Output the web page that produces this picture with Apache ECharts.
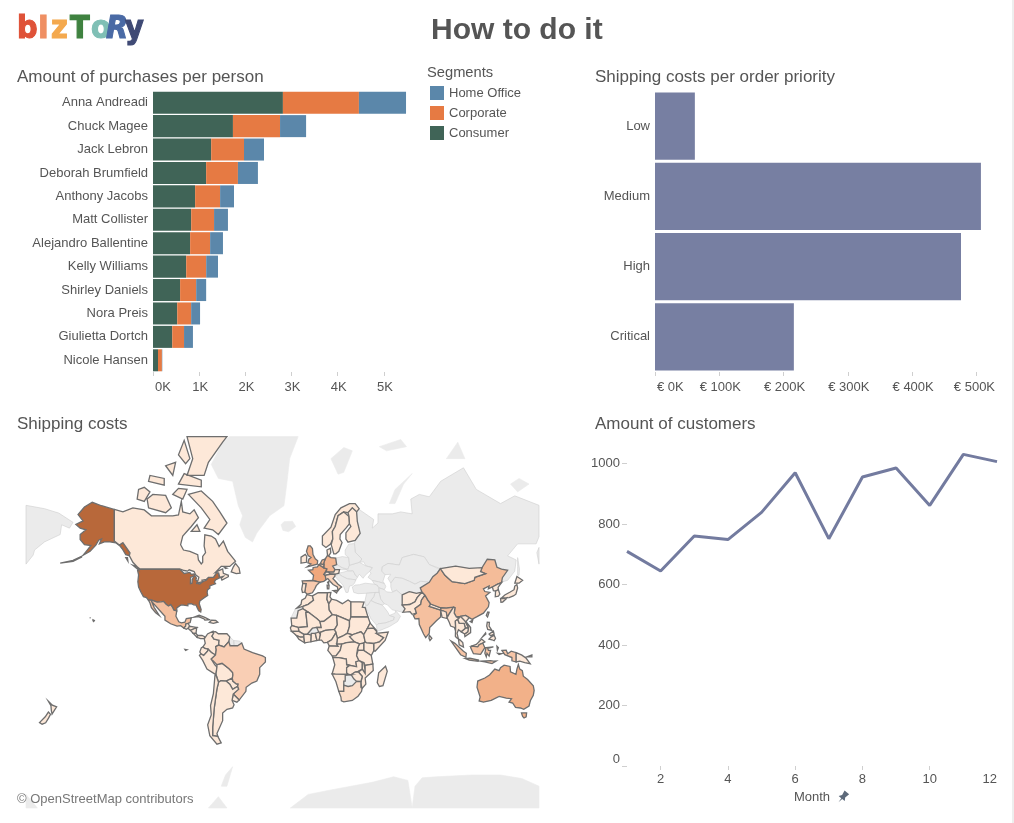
<!DOCTYPE html>
<html>
<head>
<meta charset="utf-8">
<title>How to do it</title>
<script src="https://cdn.jsdelivr.net/npm/echarts@6/dist/echarts.min.js"></script>
<style>
  html, body { margin: 0; padding: 0; background: #fff; overflow: hidden; }
  #main { width: 1014px; height: 823px; }
</style>
</head>
<body>
<div id="main"></div>
<script>
// purchases per person
var people = ['Anna Andreadi', 'Chuck Magee', 'Jack Lebron', 'Deborah Brumfield', 'Anthony Jacobs', 'Matt Collister',
  'Alejandro Ballentine', 'Kelly Williams', 'Shirley Daniels', 'Nora Preis', 'Giulietta Dortch', 'Nicole Hansen'];
var consumer = [2813, 1731, 1260, 1151, 912, 827, 804, 719, 587, 525, 417, 108];
var corporate = [1646, 1020, 711, 688, 541, 495, 433, 433, 348, 301, 255, 85];
var homeOffice = [1020, 564, 433, 433, 301, 301, 278, 255, 216, 193, 193, 8];
var segments = ['Home Office', 'Corporate', 'Consumer'];

// shipping costs per order priority
var priorities = ['Low', 'Medium', 'High', 'Critical'];
var priorityCosts = [62000, 507000, 476000, 216000];

// customers per month
var months = ['1', '2', '3', '4', '5', '6', '7', '8', '9', '10', '11', '12'];
var customers = [710, 645, 761, 749, 839, 970, 752, 956, 986, 862, 1031, 1007];
var customerTicks = [0, 200, 400, 600, 800, 1000];

// shipping costs per country, read from the shade of each country
var dearCountries = ['United States', 'France', 'Australia', 'United Kingdom', 'Germany', 'Netherlands', 'China', 'India', 'Mexico', 'Indonesia', 'Spain', 'Belgium', 'Brazil', 'Italy', 'South Africa'];
var dearCosts = [100, 62, 55, 54, 52, 50, 47, 44, 44, 40, 36, 35, 33, 25, 18];
var paleCost = 9;

// rough country outlines (lon, lat), the map needs them. East of 157E is wrapped to the left
var shippedOutlines = {
  'United States': [
    [[-124.7,48.4],[-123,49],[-95.2,49],[-94.6,48.7],[-92,46.9],[-88,47.4],[-87,46.5],[-85,46.7],[-84.5,46],[-87.5,45],[-88,44.5],[-87.6,43],[-87.6,41.8],[-86.5,42],[-86.3,44],[-85,45.7],[-84,45.5],[-83.4,44.5],[-83.9,43.8],[-82.5,43],[-83.1,42],[-81,41.6],[-79,42.8],[-76.5,43.5],[-75,45],[-71.5,45],[-70.3,46.2],[-69.2,47.4],[-67.8,47.1],[-67.5,45.3],[-67,44.8],[-70,43.7],[-70.8,42.6],[-70,41.7],[-74,40.6],[-74,39.3],[-75.5,38.5],[-75.9,37.1],[-75.5,35.3],[-77.9,33.9],[-81,32],[-81.4,30.4],[-80.1,26.8],[-80.4,25.2],[-81.8,26],[-82.8,27.8],[-83.7,29.6],[-85.3,29.7],[-87,30.4],[-89.4,30.2],[-89.4,29.1],[-91.3,29.4],[-93.8,29.7],[-95,29.2],[-97.2,27.7],[-97.2,25.9],[-99.2,26.4],[-100.4,28.5],[-101.5,29.8],[-103,29],[-104.7,30.1],[-106.5,31.8],[-108.2,31.5],[-111,31.3],[-114.8,32.5],[-117.1,32.5],[-118.5,34],[-120.6,34.6],[-122.4,37.2],[-124,40],[-124.5,42.8],[-124,46.2]],
    [[-141,69.6],[-141,60.3],[-137.5,58.9],[-135,59.7],[-130,55.9],[-130.5,54.8],[-133,55.2],[-135.5,57.5],[-137,58.5],[-140,59.7],[-144,60],[-148,60],[-151.5,59.3],[-150,61],[-152,60.6],[-154,58.8],[-158,56.5],[-163,54.9],[-160,57],[-157.5,58.7],[-162,59],[-165,60.8],[-165,62.5],[-161,64],[-165,64.5],[-168,65.6],[-163,66.6],[-166.5,68.3],[-162,70.2],[-156.5,71.3],[-150,70.5]],
    [[-164,54.5],[-170,52.8],[-179,51.6],[-179,51.3],[-170,52.4],[-164,54.2]],
    [[-156,20.2],[-155,19.7],[-155.5,19],[-156,19.5]],[[-158.3,21.5],[-157.7,21.5],[-157.9,21.2]]
  ],
  'Canada': [
    [[-141,69.6],[-135,69],[-128,70],[-120,69.5],[-115,68],[-108,68],[-100,68],[-96,68.2],[-94,71.5],[-93,69],[-88,68.5],[-85,69.5],[-82,67.5],[-87,65],[-93,62],[-94.5,59],[-92.5,57],[-88,56.5],[-82.5,55.2],[-82,53],[-80,51.3],[-79,52],[-79,54.5],[-77,56],[-78,58.5],[-77.5,62.4],[-73,62],[-70,61],[-67.5,58.3],[-64.5,60.3],[-61.5,56.5],[-56,52.5],[-60,50.2],[-66,50.2],[-70,47.5],[-65,49],[-64.5,47],[-61,46],[-61,45.3],[-65.5,43.6],[-66,44.5],[-64.5,45.5],[-67,45],[-67.8,47.1],[-69.2,47.4],[-70.3,46.2],[-71.5,45],[-75,45],[-76.5,43.9],[-79.5,43.5],[-79,42.8],[-83,42],[-82.5,43],[-81.7,45],[-84,46.3],[-85,47.8],[-88.5,48.6],[-89.6,48],[-92,48.3],[-95.2,49],[-123,49],[-125,50],[-128,52],[-130.5,54.8],[-130,55.9],[-135,59.7],[-137.5,58.9],[-141,60.3]],
    [[-62,66],[-68,62.5],[-72,64],[-78,64.5],[-74,67],[-80,70],[-89,73],[-80,73.7],[-72,71.5],[-67,69]],
    [[-117,70],[-105,68.8],[-101,70],[-105,72.8],[-114,73],[-118,72]],
    [[-125,72],[-120,71.5],[-116,73.5],[-120,74.4],[-124,74]],
    [[-90,76.5],[-78,76.5],[-75,78.5],[-65,81],[-62,81.6],[-90,81.6],[-86,79]],
    [[-96,79.5],[-91,78.3],[-88,79],[-92,81.2]],
    [[-96,75],[-80,74.5],[-80,75.7],[-92,76.8]],
    [[-117,75.5],[-106,74.8],[-106,76],[-116,76.5]],
    [[-100,73],[-93,72],[-90,74],[-96,74.2]],
    [[-59,47.7],[-55.5,46.8],[-52.8,47],[-53.5,49.5],[-56,51.5],[-57.5,50]],
    [[-128,50.7],[-124,48.5],[-123.3,48.5],[-125,50]],
    [[-87,63.5],[-81,63.5],[-83,65.5]],
    [[-105,78],[-100,76.5],[-98,78.5]],
    [[-64,49.9],[-62,49.4],[-63,49.2]],
    [[-133,54],[-131.8,54],[-131.5,52.5]]
  ],
  'Mexico': [[[-117.1,32.5],[-114.8,32.5],[-111,31.3],[-108.2,31.5],[-106.5,31.8],[-104.7,30.1],[-103,29],[-101.5,29.8],[-100.4,28.5],[-99.2,26.4],[-97.2,25.9],[-97.8,22.5],[-95.8,18.8],[-94,18.1],[-91.5,18.6],[-90.5,21],[-87,21.5],[-87.8,18.3],[-89.2,17.8],[-91,17.2],[-90.9,16],[-92.2,14.6],[-94.5,16.2],[-97,15.9],[-101.5,17.5],[-105.5,20],[-105.5,22.5],[-109,26],[-112.5,29.5],[-114.8,31.7],[-113,28],[-109.5,23],[-112,24.8],[-115,28],[-116,30.8]]],
  'Guatemala': [[[-92.2,14.6],[-90.9,16],[-91,17.2],[-89.2,17.8],[-88.2,15.8],[-89.3,14.4],[-90.5,13.8]]],
  'Honduras': [[[-89.3,14.4],[-88.2,15.8],[-83.2,15],[-87.5,13]]],
  'Nicaragua': [[[-87.5,13],[-83.2,15],[-83.7,11],[-85.7,11]]],
  'Costa Rica': [[[-85.7,11],[-83.7,11],[-82.6,9.5],[-83,8.2]]],
  'Panama': [[[-83,8.2],[-82.6,9.5],[-79.5,9.5],[-77.5,8.6],[-78,7.3],[-80.5,7.3]]],
  'Cuba': [[[-85,21.9],[-81.5,23.2],[-77.5,21.8],[-74.2,20.2],[-77.5,19.9],[-78,20.7],[-82,22.3]]],
  'Hispaniola': [[[-74.4,18.4],[-72.8,19.9],[-69.9,19.7],[-68.4,18.6],[-71.5,17.8]]],
  'Colombia': [[[-77.9,7.2],[-75.6,10.6],[-71.7,12.4],[-71.3,11],[-72.5,9],[-71,6.9],[-67.5,6.2],[-67.8,2.8],[-69.9,1.7],[-69.5,-0.5],[-70,-4.2],[-72.9,-2.4],[-75.2,-0.1],[-77.5,0.4],[-78.9,1.4],[-77.2,3.9]]],
  'Venezuela': [[[-71.7,12],[-71.3,11],[-72.5,9],[-71,6.9],[-67.5,6.2],[-67.8,2.8],[-64,1.5],[-60.7,5.2],[-60,8.5],[-62,10.7],[-68,10.7],[-70,12.1]]],
  'Ecuador': [[[-80,0.8],[-78.9,1.4],[-77.5,0.4],[-75.2,-0.1],[-75.6,-1.5],[-78.3,-4.5],[-80.3,-3.4],[-81,-2]],[[-91.5,-0.2],[-90,-0.5],[-91,-1]]],
  'Peru': [[[-81.3,-4.5],[-80.3,-3.4],[-78.3,-4.5],[-75.6,-1.5],[-75.2,-0.1],[-72.9,-2.4],[-70,-4.2],[-73,-7],[-70.5,-11],[-69,-12.5],[-69.4,-15.5],[-69.8,-17.7],[-70.4,-18.3],[-76,-14],[-79,-8]]],
  'Bolivia': [[[-69,-10.9],[-65.4,-10],[-60.5,-13.8],[-58,-16.3],[-57.8,-18],[-58.2,-20.1],[-62.6,-22],[-66.2,-21.8],[-67.9,-22.8],[-69.7,-17.5],[-69.4,-15.5],[-69,-12.5]]],
  'Brazil': [[[-51.6,4.2],[-50,0],[-44,-2.5],[-37,-4.8],[-35,-6],[-35,-9],[-39,-13],[-39,-17.5],[-41,-22],[-44.5,-23.3],[-48.5,-26],[-48.7,-28.5],[-53.4,-33.8],[-57.6,-30.2],[-53.8,-27.2],[-54.6,-25.5],[-54.3,-24],[-55.4,-24],[-58,-22],[-58.2,-20.1],[-57.8,-18],[-58,-16.3],[-60.5,-13.8],[-65.4,-10],[-69,-10.9],[-73,-7],[-70,-4.2],[-69.5,-0.5],[-69.9,1.7],[-67.8,2.8],[-64,1.5],[-60.7,5.2],[-59.8,2.3],[-54.5,2.3]]],
  'Paraguay': [[[-58.2,-20.1],[-58,-22],[-55.4,-24],[-54.3,-24],[-54.6,-25.5],[-58,-27.3],[-60,-24],[-62.6,-22]]],
  'Uruguay': [[[-57.6,-30.2],[-53.4,-33.8],[-55,-35],[-58.4,-34]]],
  'Argentina': [[[-66.2,-21.8],[-62.6,-22],[-60,-24],[-58,-27.3],[-54.6,-25.5],[-53.8,-27.2],[-57.6,-30.2],[-58.4,-34],[-57,-36.5],[-58,-38.3],[-62,-39],[-65,-41],[-65,-45],[-69,-51],[-68.4,-52.3],[-72,-52],[-72,-48],[-71.5,-44],[-71,-39],[-70,-33],[-69,-27],[-67.9,-22.8]]],
  'Chile': [[[-69.8,-17.7],[-67.9,-22.8],[-69,-27],[-70,-33],[-71,-39],[-71.5,-44],[-72,-48],[-72,-52],[-68.4,-52.3],[-66,-55],[-69,-55.5],[-74,-52],[-75.5,-47],[-73,-42],[-73.5,-37],[-71.5,-30],[-70.4,-18.3]]],
  'Norway': [[[5,62],[5,59],[7.5,58],[10.7,59.2],[12.3,61],[12,63.5],[14,65],[16,68],[20,69],[23,68.8],[26,70],[29,69],[30.8,69.8],[28,71],[24,71],[18,70],[14,68.3],[11,64.8]]],
  'Sweden': [[[11.2,59],[13,55.5],[14.4,55.5],[16.5,56.5],[18.8,59.8],[17.3,61],[17.5,62.5],[21.5,64.5],[24,65.8],[23.7,67.8],[20,69],[16,68],[14,65],[12,63.5],[12.3,61]]],
  'Finland': [[[23,59.9],[28,60.5],[31.5,62.9],[29.5,66.5],[29,69],[26,70],[23,68.8],[23.7,67.8],[24,65.8],[25,65],[21.5,63],[21.5,61]]],
  'Denmark': [[[8.2,57],[10.6,57.7],[10.9,56],[9.7,54.9],[8.6,54.9]]],
  'United Kingdom': [[[-5.7,50],[1.4,51.2],[1.7,52.7],[0,53.5],[-1.6,55.2],[-2,57.6],[-3.5,58.6],[-5,58.6],[-6.2,56.5],[-5,54.8],[-3,54],[-4.5,53.3],[-5.2,51.8],[-3,51.3]]],
  'Ireland': [[[-10,51.6],[-6.2,52],[-6,54.5],[-7,55.3],[-10,54.2]]],
  'France': [[[-1.8,43.4],[3.1,42.5],[6,43],[7.5,43.8],[7,46],[6,46.4],[8.2,49],[6,49.5],[2.5,51],[1.5,50],[-1.5,49.7],[-1.7,48.7],[-4.8,48.4],[-1.2,46]],[[8.6,42.5],[9.5,42.9],[9.3,41.5]]],
  'Germany': [[[6,49.5],[8.2,49],[7.6,47.6],[13,47.5],[13.8,48.7],[12.2,50.3],[15,51],[14.3,53.8],[11,54],[8.6,54.9],[7,53.5],[6,51.8]]],
  'Belgium': [[[2.5,51],[6,49.5],[6,51],[4,51.4]]],
  'Netherlands': [[[3.5,51.4],[6,51],[6,51.8],[7,53.4],[4.8,53]]],
  'Switzerland': [[[6,46.4],[7,46],[10.4,46.5],[9.5,47.5],[7.6,47.6]]],
  'Austria': [[[9.5,47.5],[10.4,46.8],[13.8,46.5],[16.5,47],[17,48.7],[13.8,48.7],[13,47.5]]],
  'Italy': [[[7.5,43.8],[8.8,44.4],[10.5,42.9],[12.5,41.3],[15.5,40],[16,38],[17,39],[18.5,40],[16,41.5],[13.5,43.5],[12.4,44.3],[13.8,45.6],[13.8,46.5],[10.4,46.5],[7,46]],[[12.5,38],[15.6,38.2],[15,36.7]],[[8.3,41],[9.7,41],[9.5,39],[8.5,39]]],
  'Spain': [[[-9.2,43.2],[-1.8,43.4],[3.1,42.5],[0.7,40.7],[-0.3,39],[-2,36.8],[-5.5,36],[-7.4,37.2],[-7,39],[-6.5,41.8],[-8.8,41.9]]],
  'Portugal': [[[-8.8,41.9],[-6.5,41.8],[-7,39],[-7.4,37.2],[-9,37],[-9.5,38.8]]],
  'Afghanistan': [[[61,35.6],[66,37.4],[67.5,37.2],[71,36.5],[74.9,37.2],[71.5,34],[70,31.5],[66.3,29.9],[61,29.5],[61,31.5]]],
  'Pakistan': [[[61,29.5],[66.3,29.9],[70,31.5],[71.5,34],[74.9,37.2],[77,35.5],[74.5,32.5],[74,30],[70,27.5],[71,24.5],[68,23.7],[66.5,25.4],[61.5,25],[63,27.2]]],
  'India': [[[77,35.5],[79,32.5],[81,30.2],[80,28.8],[88,26.4],[88,27.9],[92,27.8],[97,28.3],[94,24],[92.5,22.5],[91.5,24.5],[92,25.1],[89.7,26],[88,26.3],[88,22],[85,19.5],[80.3,15],[80,11],[77.5,8],[76,10.5],[73,17],[72.7,21],[70,20.8],[68.8,23],[71,24.5],[70,27.5],[74,30],[74.5,32.5]]],
  'Nepal': [[[81,30.2],[88,27.9],[88,26.4],[80,28.8]]],
  'Bangladesh': [[[88,26.3],[89.7,26],[92,25.1],[92.5,21],[89,21.8]]],
  'Sri Lanka': [[[80,9.7],[81.8,7.5],[80.5,6],[79.8,7.5]]],
  'China': [[[73.7,39.5],[80,42.5],[82.5,45.3],[85.5,47],[87.8,49.2],[91,46],[96,42.8],[105,41.8],[111.5,43.5],[112,45],[119.5,46.8],[116,47.8],[117,49.6],[120.7,53.3],[126,53],[127.5,49.8],[130.7,48.9],[135,48.4],[131.3,44.8],[130.7,42.3],[128,41.5],[124.3,40],[121.5,39],[122,40.5],[118,39],[119,37.5],[122.5,37],[119.5,35],[122,31],[121.5,28.5],[118,24.5],[113.5,22.2],[110,20.5],[108,21.6],[105.5,23],[102,22.4],[99,22],[97.5,24.5],[98,28],[97,28.3],[92,27.8],[88,27.9],[81,30.2],[79,32.5],[77,35.5],[74.9,37.2]],[[108.7,19],[110.5,20],[111,19.5],[110,18.3]]],
  'Mongolia': [[[87.8,49.2],[98.5,50.3],[108,49.3],[117,49.6],[116,47.8],[119.5,46.8],[112,45],[111.5,43.5],[105,41.8],[96,42.8],[91,46]]],
  'Taiwan': [[[120,23],[121,25.2],[122,25],[120.9,22]]],
  'North Korea': [[[124.3,40],[128,41.5],[130.7,42.3],[128.3,39.8],[128.5,38.5],[126.5,37.7],[125,38]]],
  'South Korea': [[[126.5,37.7],[128.5,38.5],[129.5,36],[128.5,34.8],[126.3,34.5]]],
  'Japan': [[[130.9,34],[133,35.5],[136.8,37.2],[139.5,38.5],[140,40.5],[141.5,41.3],[142,39.5],[140.8,36],[139,35],[136,34],[132.5,33.9]],[[140,42],[141.5,45.4],[145.5,43.5],[143,42]],[[130,33.5],[132,33.5],[134.5,34],[134,33.3],[131.5,31.4],[130.3,31.3]]],
  'Myanmar': [[[92.5,21.5],[94,24],[97,28.3],[98,28],[97.5,24.5],[99,22],[101,21.5],[98.3,19],[98.5,15],[99,11],[97.7,15],[95,16],[94,18.5]]],
  'Thailand': [[[98.3,19.5],[100,20.3],[101,18],[104.5,17.8],[105.5,14.5],[102.5,12],[100.5,13.5],[99.5,11],[100.5,7],[102,6],[99,8],[98.3,9],[98.5,15]]],
  'Laos': [[[100,20.3],[102,22.4],[105,19.5],[107.5,15],[105.5,14.5],[104.5,17.8],[101,18]]],
  'Vietnam': [[[102,22.4],[105.5,23],[108,21.6],[105.8,19],[109,15],[109,11.5],[105,8.7],[104.8,10.5],[107,12],[107.5,15],[105,19.5]]],
  'Cambodia': [[[102.5,12],[105.5,14.5],[107.5,14.5],[107,12],[104.8,10.5]]],
  'Malaysia': [[[100.5,7],[102,6],[103.5,4.5],[104,1.4],[101,3]],[[109.6,2],[113,3.2],[116.8,7],[119,5],[117.5,4.2],[115,3],[114,1.5]]],
  'Indonesia': [[[109,1],[109.6,2],[114,1.5],[115,3],[117.5,4.2],[119,1],[116,-3.8],[111,-3.3]],[[95.3,5.6],[98,4],[104,-1.5],[106,-3],[105.7,-5.8],[102,-4],[98.5,1]],[[105.2,-6.7],[108.5,-6.5],[114.5,-7.7],[114.3,-8.6],[108,-7.8]],[[119.8,1],[125,1.5],[121,0.5],[121.5,-1],[123,-1],[122,-5],[120.5,-3],[120,-5.5],[119,-3]],[[131,-1],[134,-0.8],[135,-3.3],[137.5,-1.5],[141,-2.6],[141,-9.1],[138,-8.3],[138,-6],[133,-4]],[[116,-8.5],[123,-8.2],[125,-8.5],[127,-8.4],[124,-10.2],[119,-9]],[[127.5,2],[128.5,1],[127.8,-0.8]],[[128,-3],[130.8,-3.2],[129,-3.8]]],
  'Papua New Guinea': [[[141,-2.6],[145,-4.3],[148,-6.5],[147.5,-7],[150.8,-10.3],[147,-9.5],[143.5,-8.5],[141,-9.1]],[[148.5,-5.5],[152,-4.2],[152,-5.5]]],
  'Philippines': [[[120.3,16],[120.7,18.5],[122.2,18.4],[122,16],[124,13],[121,13.7]],[[122,7],[123.5,8.5],[125.5,9.7],[126.5,7.5],[125.5,5.8],[124,6.5]],[[122,10.5],[125,12.5],[125.5,10.5],[123,9.3]],[[117.2,8.4],[119.5,11.3],[119.7,10.5]]],
  'Australia': [[[114,-22],[113.5,-26],[115.7,-32],[115,-34.3],[118,-35],[123.5,-34],[129,-31.6],[134,-32.7],[137.7,-33],[136,-35],[138.5,-35.5],[140.5,-38],[144,-38.3],[146.3,-39],[150,-37.2],[151,-34],[153,-31],[153.6,-28],[153,-25],[149,-21],[146,-18.8],[145.3,-15],[143.5,-14],[142.5,-10.8],[141.5,-14],[140.8,-17.5],[137,-15.8],[136.7,-12.2],[132.5,-11.3],[130,-13],[129,-15],[126,-14],[122.3,-18],[119,-20]],[[144.7,-41],[148.3,-41],[148,-43],[146.5,-43.6],[145.5,-42.8]]],
  'New Zealand': [[[-187.3,-34.5],[-184.5,-36.7],[-181.5,-37.7],[-183,-39.5],[-184.7,-41.6],[-185.2,-39.8],[-185.5,-37]],[[-187.3,-40.5],[-185.8,-41.7],[-187.2,-43.7],[-189.2,-46],[-191.7,-46.7],[-193.5,-45.9],[-189.5,-43]]],
  'Morocco': [[[-5.9,35.8],[-2,35],[-1.2,32.5],[-5,30],[-8.7,28.7],[-13,27.7],[-10,30],[-9.5,32.5],[-7,33.8]]],
  'Algeria': [[[-2,35],[2,36.8],[8.6,36.9],[8.2,33],[9.5,30.2],[9.8,26.5],[12,23.5],[6,19.2],[3.3,19],[1.2,20.8],[-4.8,25],[-8.7,27.3],[-8.7,28.7],[-5,30],[-1.2,32.5]]],
  'Tunisia': [[[8.6,36.9],[11,37],[10.3,34.5],[11.5,33.1],[9.5,30.2],[8.2,33]]],
  'Libya': [[[9.5,30.2],[11.5,33.1],[15,32.4],[19,30.4],[23,32.6],[25,31.5],[25,20],[24,19.5],[15,23],[12,23.5],[9.8,26.5]]],
  'Egypt': [[[25,31.5],[31,31.5],[34.2,31.3],[33,28.2],[35,28],[37,22],[25,22]]],
  'Mauritania': [[[-17,21.3],[-13,21.3],[-12,26],[-8.7,27.3],[-4.8,25],[-6.6,25],[-5.5,15.5],[-12,15],[-16.5,16.3]]],
  'Mali': [[[-4.8,25],[1.2,20.8],[3.3,19],[4.2,15],[1,15],[-2,14.5],[-5.5,10.5],[-8,10.3],[-11.5,12.3],[-12,15],[-5.5,15.5],[-6.6,25]]],
  'Senegal': [[[-17.5,14.7],[-16.5,16.3],[-12,15],[-11.5,12.3],[-16.7,12.3]]],
  'Guinea': [[[-16.7,12.3],[-11.5,12.3],[-8,10.3],[-8,8.5],[-10.5,8.3],[-13.3,9.5],[-15,11]]],
  'Liberia': [[[-13.3,9.5],[-10.5,8.3],[-8,8.5],[-7.5,4.4],[-11.5,6.9]]],
  'Ivory Coast': [[[-8,10.3],[-5.5,10.5],[-2.8,9.8],[-3,5.1],[-7.5,4.4],[-8,8.5]]],
  'Ghana': [[[-2.8,11],[0,11],[1.2,6],[-3,5.1]]],
  'Benin': [[[0,11],[2.4,11.9],[3.6,10],[2.7,6.3],[1.2,6]]],
  'Niger': [[[3.3,19],[6,19.2],[12,23.5],[15,23],[15.5,16.8],[13.6,13.7],[7,13],[3.6,11.7],[2.4,11.9],[1,15],[4.2,15]]],
  'Nigeria': [[[2.7,6.3],[3.6,10],[3.6,11.7],[7,13],[13.6,13.7],[14.5,11.5],[11.5,6.5],[8.5,4.7],[6,4.3],[4.4,6.3]]],
  'Chad': [[[15,23],[24,19.5],[24,15.7],[22.5,11],[19,9],[15.5,7.5],[14.5,11.5],[13.6,13.7],[15.5,16.8]]],
  'Sudan': [[[24,19.5],[25,22],[37,22],[38.5,18],[36.5,14.3],[34,10],[32,12],[26,10],[22.5,11],[24,15.7]]],
  'South Sudan': [[[24,8.7],[27.5,5],[31,3.7],[34,4.2],[35,5],[34,10],[32,12],[26,10]]],
  'Central African Republic': [[[15.5,7.5],[19,9],[22.5,11],[26,10],[24,8.7],[27.5,5],[22,4.5],[18.6,3.5],[15,3.5]]],
  'Cameroon': [[[8.5,4.7],[11.5,6.5],[14.5,11.5],[15.5,7.5],[15,3.5],[16,2],[9.8,2.2]]],
  'Eritrea': [[[36.5,14.3],[38.5,18],[43.3,12.7],[41,14.5]]],
  'Ethiopia': [[[34,10],[36.5,14.3],[41,14.5],[43.3,12],[42.8,11],[48,8],[45,5],[41.8,3.9],[36,4.4],[35,5]]],
  'Somalia': [[[42.8,11],[51.2,11.9],[49,6],[42,-1.5],[41,-1.2],[41,3.9],[45,5],[48,8]]],
  'Kenya': [[[34,4.2],[35,5],[36,4.4],[41,3.9],[41,-1.2],[39.3,-4.6],[34,-1],[34,1]]],
  'Uganda': [[[31,3.7],[34,4.2],[34,-1],[30,-1],[29.7,0.5]]],
  'Gabon': [[[9.8,2.2],[16,2],[15,3.5],[18.6,3.5],[17.5,-1],[14.5,-4.8],[12,-5],[8.8,-1]]],
  'DR Congo': [[[18.6,3.5],[22,4.5],[27.5,5],[31,3.7],[29.7,0.5],[29,-4.5],[30.7,-8.2],[28.5,-9],[29,-12.4],[27,-12],[22,-11],[21.8,-7],[16.5,-6],[12.3,-6],[12,-5],[14.5,-4.8],[17.5,-1]]],
  'Tanzania': [[[30,-1],[34,-1],[39.3,-4.6],[40.4,-10.5],[35,-11.5],[34,-9.5],[30.7,-8.2],[29,-4.5]]],
  'Angola': [[[12.3,-6],[16.5,-6],[21.8,-7],[22,-11],[24,-11.5],[22,-13],[22,-16.5],[23.3,-17.6],[14,-17.4],[11.8,-17.3],[13.7,-11]]],
  'Zambia': [[[22,-11],[27,-12],[29,-12.4],[28.5,-9],[30.7,-8.2],[33,-9.5],[33,-14],[30,-15.5],[28,-16],[25,-17.8],[23.3,-17.6],[22,-16.5],[22,-13],[24,-11.5]]],
  'Malawi': [[[33,-9.5],[34,-9.5],[35,-14.5],[35,-17],[33,-14]]],
  'Mozambique': [[[35,-11.5],[40.4,-10.5],[40.7,-15],[35,-20],[35.5,-24],[32.8,-26.8],[32,-23],[33,-19],[30.3,-16],[33,-14],[35,-17],[35,-14.5]]],
  'Zimbabwe': [[[25.2,-17.8],[28,-16],[30.3,-16],[33,-19],[32,-22.3],[29,-22.2],[27,-20.5]]],
  'Namibia': [[[11.8,-17.3],[14,-17.4],[23.3,-17.6],[25.2,-17.8],[21,-18.3],[21,-22],[20,-22],[20,-28.5],[16.5,-28.6],[14.5,-22.5]]],
  'South Africa': [[[16.5,-28.6],[20,-28.5],[20,-24.7],[23,-25.5],[26,-25],[29,-22.2],[32,-22.3],[32,-26],[32.8,-26.8],[32.5,-28.5],[30,-31.5],[26,-34],[20,-34.8],[18.3,-34.2],[18,-32]]],
  'Madagascar': [[[49.3,-12],[50.5,-15.5],[47.5,-25],[45,-25.5],[43.5,-23],[44.5,-16.5]]]
};

// land with no shipping, only shown as grey background
var greyOutlines = {
  'Greenland': [[[-73,78.2],[-68,76],[-58,75.5],[-54,70.5],[-51,68],[-53,65.5],[-49,61.5],[-44,60],[-41,63],[-32,68],[-22,70.5],[-20,75],[-18,79],[-12,81.6],[-60,81.6],[-65,81]]],
  'Iceland': [[[-24,65.5],[-22,66.4],[-16,66.5],[-13.7,65],[-18.7,63.4],[-22.7,63.8]]],
  'Arctic islands': [[[11,79],[20,80.4],[26,80],[20,77],[16,76.7]],[[45,80.5],[60,81.3],[64,80.5],[50,80]],[[52,71],[56,74],[68,76.8],[62,75],[56,71]],[[92,79],[105,79],[100,81]],[[137,75],[143,76],[150,75],[142,73.5]]],
  'Russia': [[[30,69.8],[41,67],[40,64.5],[44,66],[44,68.5],[54,68.5],[60,69],[68,68.5],[67,72],[73,73],[80,72.5],[88,75.5],[104,77.7],[113,74],[130,71],[140,72.7],[157,70.6],[157,61.8],[155,59.3],[142,59.3],[135,54.7],[141,53],[140,48],[135,43.5],[131,42.6],[130.7,42.3],[131.3,44.8],[135,48.4],[130.7,48.9],[127.5,49.8],[126,53],[120.7,53.3],[117,49.6],[108,49.3],[98.5,50.3],[87.8,49.2],[80,51],[76.5,54.3],[69,55.3],[61,54],[59,50.8],[51,51.5],[47,50],[46.7,48],[49,46.3],[47.5,43],[48.5,41.8],[44.5,42.7],[40,43.4],[37,45],[39.2,47.1],[38,47.8],[40,49.6],[35.5,50.4],[34,52.2],[31,52],[32.7,53.4],[28,56.2],[27.5,59.4],[28,60.5],[31.5,62.9],[29.5,66.5],[29,69]],[[157,51.2],[155.5,56],[157,58]],[[-203,70.6],[-190,69.8],[-180,68.7],[-170,66.2],[-172.5,64.5],[-178,65.5],[-179,62.5],[-190,60],[-197,57],[-198,55],[-203,51.2]],[[142,54],[143.3,49],[143,46],[142,46],[142,50]]],
  'Poland': [[[14.3,53.8],[15,51],[19,49.5],[23,49],[24,50.7],[23.5,54],[19,54.4]]],
  'Czechia': [[[12.2,50.3],[13.8,48.7],[17,48.7],[22.5,48.6],[19,49.5],[15,51]]],
  'Romania': [[[16.5,47],[22.5,48],[26.6,48.2],[28.2,46],[29.7,45.2],[28.5,43.7],[22.7,44.2],[19,45.5]]],
  'Balkans': [[[13.8,45.6],[16.5,46.5],[19,45.5],[22.7,44.2],[26,44],[28.5,43.7],[27.5,42],[26,40.8],[24,40.5],[23,37],[21.5,37],[19.5,41],[15,44.5]]],
  'Ukraine': [[[24,50.7],[31,52],[35.5,50.4],[40,49.6],[38,47.8],[35,46],[33.5,44.5],[31,46.5],[29.7,45.2],[28.2,46],[26.6,48.2],[22.5,48.2]]],
  'Belarus': [[[23.5,54],[24,50.7],[31,52],[32.7,53.4],[28,56.2],[27.5,59.4],[23.5,59.2],[21,57],[21,55.2]]],
  'Turkey': [[[26,40],[27,37],[30,36.3],[36,36.5],[44.8,37],[44.5,39.5],[43.5,41],[41.5,41.5],[35,42],[31,41.2],[28,41]]],
  'Caucasus': [[[40,43.4],[44.5,42.7],[48.5,41.8],[49.5,40.3],[48.5,38.5],[44.8,39.5],[43.5,41],[41.5,41.5]]],
  'Kazakhstan': [[[46.7,48],[47,50],[51,51.5],[59,50.8],[61,54],[69,55.3],[76.5,54.3],[80,51],[87,49],[85.5,47],[82.5,45.3],[80,42.5],[74,43],[70,41.5],[66,43],[61,44.5],[56,45],[53,42],[51,44.5],[53,46.5],[49,46.3]]],
  'Central Asia': [[[53,42],[56,45],[61,44.5],[66,43],[70,41.5],[74,43],[80,42.5],[73.7,39.5],[74.9,37.2],[71,36.5],[67.5,37.2],[66,37.4],[61,35.6],[57,38.2],[54,37.4],[53,40]]],
  'Iran': [[[44.8,39.5],[48.5,38.5],[50,37.3],[54,37],[57,38.2],[61,35.6],[61,31.5],[63,27.2],[61.5,25],[57,26],[54,26.6],[50.5,29.8],[48.5,30.3],[46,33],[45,36]]],
  'Iraq': [[[44.8,37],[42,37],[41,34.5],[39,32.3],[42,31],[47,29.5],[48.5,30.3],[46,33],[45,36]]],
  'Syria': [[[36,36.5],[42,37],[41,34.5],[39,32.3],[37,29.5],[35,29.5],[35,32.5]]],
  'Saudi Arabia': [[[35,29],[37,29.5],[39,32.3],[42,31],[47,29.5],[48.5,28],[51,25],[52,23],[55.5,22],[55,20],[52,19],[49,18],[44,17.5],[43,16.5],[39,21],[36.8,25.5]]],
  'Oman': [[[43,16.5],[44,17.5],[49,18],[52,19],[55,20],[55.5,22],[52,23],[56,24.5],[56.4,26],[59.8,22.5],[57.8,19],[52,15.6],[45,12.8],[43.3,12.7]]],
  'Western Sahara': [[[-13,27.7],[-8.7,27.7],[-8.7,26],[-12,26],[-13,21.3],[-17,21.3],[-16,23.5],[-14.5,26.2]]],
  'Burkina Faso': [[[-5.5,10.5],[-2,14.5],[1,15],[2.4,11.9],[0,11],[-2.8,11]]],
  'Botswana': [[[21,-18.3],[25.2,-17.8],[27,-20.5],[29,-22.2],[26,-25],[23,-25.5],[20,-24.7],[20,-22],[21,-22]]],
  'Guyana': [[[-60,8.5],[-60.7,5.2],[-59.8,2.3],[-57,2],[-57.2,6]],[[-57.2,6],[-57,2],[-54.5,2.3],[-51.6,4.2],[-53,5.6]]],
  'Antarctica': [[[-62,-69],[-58,-63.5],[-63,-66],[-66,-69]],[[-75,-73.87],[-68,-71.5],[-62,-73.87]],[[-17.5,-73.87],[-5,-71],[10,-70],[40,-68],[55,-66.5],[65,-67.5],[68,-73.87],[70,-69],[75,-66.8],[85,-66.5],[110,-66],[130,-66],[145,-67],[157,-69],[157,-73.87]],[[-203,-71],[-195,-73.87],[-203,-73.87]]]
};
var borderlessLand = ['Greenland', 'Iceland', 'Arctic islands', 'Antarctica'];

// logo letters and colours
var logoLetters = ['b', 'I', 'z', 'T', 'o', 'R', 'y'];
var logoColors = ['#df5238', '#ef8f63', '#f4a94e', '#3f8240', '#7fbfb5', '#4a6aa5', '#3f4a75'];
var logoLefts = [17, 38, 51, 70, 91, 106, 125];

var FONT = '"Liberation Sans", Arial, sans-serif';
var TEXT = '#555';
var TICK = '#cfcfcf';

function toGeoJson(outlines) {
  return {
    type: 'FeatureCollection',
    features: Object.keys(outlines).map(function (name) {
      return {
        type: 'Feature',
        properties: { name: name },
        geometry: { type: 'MultiPolygon', coordinates: outlines[name].map(function (ring) { return [ring]; }) }
      };
    })
  };
}
echarts.registerMap('shipped', toGeoJson(shippedOutlines));
echarts.registerMap('greyLand', toGeoJson(greyOutlines));

var mercator = {
  project: function (p) {
    return [p[0], -Math.log(Math.tan(Math.PI / 4 + p[1] * Math.PI / 360)) * 180 / Math.PI];
  },
  unproject: function (p) {
    return [p[0], (2 * Math.atan(Math.exp(-p[1] * Math.PI / 180)) - Math.PI / 2) * 180 / Math.PI];
  }
};

var shippingData = Object.keys(shippedOutlines).map(function (name) {
  var i = dearCountries.indexOf(name);
  return { name: name, value: i >= 0 ? dearCosts[i] : paleCost };
});

function paneTitle(text, left, top) {
  return { text: text, left: left, top: top, padding: 0, textStyle: { fontFamily: FONT, fontSize: 17, fontWeight: 'normal', color: TEXT } };
}

function mapPane(name, style, regions) {
  return {
    map: name, silent: true, roam: false, projection: mercator,
    boundingCoords: [[-203, 81.66], [157, -73.87]],
    left: 26, top: 436, width: 513, height: 372,
    itemStyle: style, regions: regions, emphasis: { disabled: true }, select: { disabled: true }
  };
}

function stackBar(name, values, color) {
  return {
    name: name, type: 'bar', stack: 'total', xAxisIndex: 0, yAxisIndex: 0, barCategoryGap: '6%',
    data: values, itemStyle: { color: color }, silent: true
  };
}

var valueLabel = { fontFamily: FONT, fontSize: 13, color: TEXT };
var valueTick = { show: true, length: 4, lineStyle: { color: TICK } };

var chart = echarts.init(document.getElementById('main'), null, { renderer: 'canvas' });
chart.setOption({
  animation: false,
  textStyle: { fontFamily: FONT },
  title: [
    { text: 'How to do it', left: 431, top: 16, padding: 0, textStyle: { fontFamily: FONT, fontSize: 30, fontWeight: 'bold', color: TEXT } },
    paneTitle('Amount of purchases per person', 17, 69),
    paneTitle('Shipping costs per order priority', 595, 69),
    paneTitle('Shipping costs', 17, 416),
    paneTitle('Amount of customers', 595, 416),
    { text: 'Segments', left: 427, top: 65, padding: 0, textStyle: { fontFamily: FONT, fontSize: 14.7, fontWeight: 'normal', color: TEXT } },
    { text: '© OpenStreetMap contributors', left: 17, top: 793, padding: 0, textStyle: { fontFamily: FONT, fontSize: 13, fontWeight: 'normal', color: '#777' } }
  ],
  legend: {
    data: segments, orient: 'vertical', left: 430, top: 86, padding: 0, itemWidth: 14, itemHeight: 14, itemGap: 6,
    selectedMode: false, icon: 'rect', textStyle: { fontFamily: FONT, fontSize: 13, color: TEXT }
  },
  grid: [
    { left: 153, top: 91, width: 254, height: 281 },
    { left: 655, top: 91, width: 342, height: 281 },
    { left: 627, top: 448, width: 370, height: 318 }
  ],
  xAxis: [
    {
      type: 'value', gridIndex: 0, min: 0, max: 5500, interval: 1000,
      axisLine: { show: false }, splitLine: { show: false }, axisTick: valueTick,
      axisLabel: Object.assign({ margin: 9, showMaxLabel: false, alignMinLabel: 'left', padding: [0, 0, 0, 2], formatter: function (v) { return v / 1000 + 'K'; } }, valueLabel)
    },
    {
      type: 'value', gridIndex: 1, min: 0, max: 532000, interval: 100000,
      axisLine: { show: false }, splitLine: { show: false }, axisTick: valueTick,
      axisLabel: Object.assign({
        margin: 9, showMaxLabel: false, alignMinLabel: 'left', padding: [0, 0, 0, 2],
        formatter: function (v) { return v === 500000 ? '{last|€ 500K}' : '€ ' + v / 1000 + 'K'; },
        rich: { last: { fontFamily: FONT, fontSize: 13, color: TEXT, padding: [0, 6, 0, 0] } }
      }, valueLabel)
    },
    {
      type: 'category', gridIndex: 2, data: months, boundaryGap: false,
      name: 'Month', nameLocation: 'middle', nameGap: 25, nameTextStyle: { fontFamily: FONT, fontSize: 13, color: TEXT },
      axisLine: { show: false }, splitLine: { show: false },
      axisTick: { show: true, length: 4, lineStyle: { color: TICK }, interval: function (i) { return i % 2 === 1 && i < 11; } },
      axisLabel: Object.assign({ margin: 7, alignMaxLabel: 'right', interval: function (i) { return i % 2 === 1; } }, valueLabel)
    }
  ],
  yAxis: [
    {
      type: 'category', gridIndex: 0, data: people, inverse: true,
      axisLine: { show: false }, axisTick: { show: false }, splitLine: { show: false },
      axisLabel: Object.assign({ margin: 5 }, valueLabel)
    },
    {
      type: 'category', gridIndex: 1, data: priorities, inverse: true,
      axisLine: { show: false }, axisTick: { show: false }, splitLine: { show: false },
      axisLabel: Object.assign({ margin: 5 }, valueLabel)
    },
    {
      type: 'value', gridIndex: 2, min: 0, max: 1052,
      axisLine: { show: false }, splitLine: { show: false },
      axisTick: { show: true, length: 5, lineStyle: { color: TICK }, customValues: customerTicks },
      axisLabel: Object.assign({ margin: 7, customValues: customerTicks, verticalAlignMinLabel: 'bottom', formatter: function (v) { return String(v); } }, valueLabel)
    }
  ],
  geo: [
    mapPane('greyLand', { areaColor: '#ebebeb', borderColor: '#cfcfcf', borderWidth: 0.6 }, borderlessLand.map(function (name) {
      return { name: name, itemStyle: { borderColor: '#ebebeb' } };
    })),
    mapPane('shipped', { areaColor: '#fde8d8', borderColor: '#6e6e6e', borderWidth: 1.3 })
  ],
  visualMap: {
    type: 'continuous', show: false, seriesIndex: 3, min: 0, max: 100,
    inRange: { color: ['#fef1e6', '#f9ceb3', '#eea173', '#b8683a'] }
  },
  series: [
    stackBar('Consumer', consumer, '#406457'),
    stackBar('Corporate', corporate, '#e67a43'),
    stackBar('Home Office', homeOffice, '#5b87aa'),
    { type: 'map', geoIndex: 1, data: shippingData },
    {
      type: 'bar', xAxisIndex: 1, yAxisIndex: 1, barCategoryGap: '4.6%', data: priorityCosts,
      itemStyle: { color: '#777fa2' }, silent: true
    },
    {
      type: 'line', xAxisIndex: 2, yAxisIndex: 2, data: customers, showSymbol: false, silent: true,
      lineStyle: { color: '#737b9f', width: 3 }
    }
  ],
  graphic: logoLetters.map(function (letter, i) {
    return {
      type: 'text', x: logoLefts[i], y: 30, scaleX: 0.9, silent: true,
      style: {
        text: letter, fill: logoColors[i], stroke: logoColors[i], lineWidth: 1.2, verticalAlign: 'middle',
        font: (letter === 'R' ? 'italic ' : '') + 'bold 32px "DejaVu Sans"'
      }
    };
  }).concat([
    // pin next to the month axis title
    {
      type: 'polygon', silent: true, rotation: -0.7, x: 843, y: 797,
      shape: { points: [[-3, -6], [3, -6], [2, -1], [4, 2], [0.6, 2], [0, 7], [-0.6, 2], [-4, 2], [-2, -1]] },
      style: { fill: '#5d6a7a' }
    },
    // edge of the page on the right
    { type: 'rect', silent: true, shape: { x: 1012, y: 0, width: 2, height: 823 }, style: { fill: '#eeeeee' } }
  ])
});
</script>
</body>
</html>
